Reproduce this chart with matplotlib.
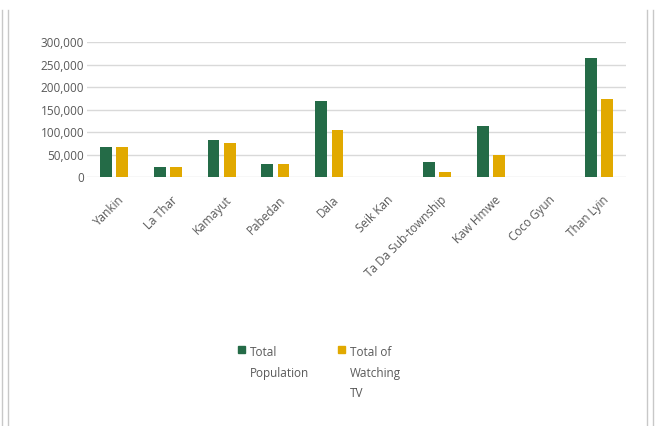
import numpy as np
import matplotlib.pyplot as plt
from matplotlib.patches import Rectangle
from matplotlib.lines import Line2D
from matplotlib.ticker import FuncFormatter

plt.rcParams['font.family'] = ['Open Sans', 'DejaVu Sans']

# data
townships = ['Yankin', 'La Thar', 'Kamayut', 'Pabedan', 'Dala', 'Seik Kan',
             'Ta Da Sub-township', 'Kaw Hmwe', 'Coco Gyun', 'Than Lyin']
population = [66000, 23000, 82000, 28000, 168000, 0, 33000, 114000, 0, 264000]
watching_tv = [66000, 23000, 76000, 28000, 104000, 0, 12000, 50000, 0, 173000]

green = '#246B47'
gold = '#E1A900'
grey = '#595959'

fig = plt.figure(figsize=(6.58, 4.26), dpi=100)
ax = fig.add_axes([0.132, 0.5845, 0.819, 0.3165])

x = np.arange(len(townships))
w = 0.22
ax.bar(x - 0.15, population, w, color=green)
ax.bar(x + 0.15, watching_tv, w, color=gold)

ax.set_xlim(-0.5, len(townships) - 0.5)
ax.set_ylim(0, 300000)
ax.set_yticks(np.arange(0, 300001, 50000))
ax.yaxis.set_major_formatter(FuncFormatter(lambda v, p: f'{int(v):,}'))
ax.grid(axis='y', color='#d9d9d9', lw=1)
ax.set_axisbelow(True)
for s in ax.spines.values():
    s.set_visible(False)
ax.tick_params(length=0, labelsize=8.5, colors=grey, pad=12)
ax.tick_params(axis='y', pad=2)
ax.set_xticks(x + 0.06)
ax.set_xticklabels(townships, rotation=45, ha='right', rotation_mode='anchor')

# legend drawn by hand so the squares sit on the first line
W, H = 658, 426
def fx(px):
    return px / W
def fy(py):
    return 1 - py / H

fig.patches.append(Rectangle((fx(238), fy(353)), 7 / W, 7 / H, color=green,
                             transform=fig.transFigure))
fig.text(fx(250), fy(346), 'Total\nPopulation', va='top', ha='left',
         fontsize=8.5, color=grey, linespacing=1.75)
fig.patches.append(Rectangle((fx(338), fy(353)), 7 / W, 7 / H, color=gold,
                             transform=fig.transFigure))
fig.text(fx(350), fy(346), 'Total of\nWatching\nTV', va='top', ha='left',
         fontsize=8.5, color=grey, linespacing=1.75)

# window border lines at the sides
for px in [2, 8, 647, 653]:
    fig.add_artist(Line2D([fx(px), fx(px)], [0, fy(10)], color='#c8c8c8', lw=1,
                          transform=fig.transFigure))

fig.savefig('out.png', dpi=100)
